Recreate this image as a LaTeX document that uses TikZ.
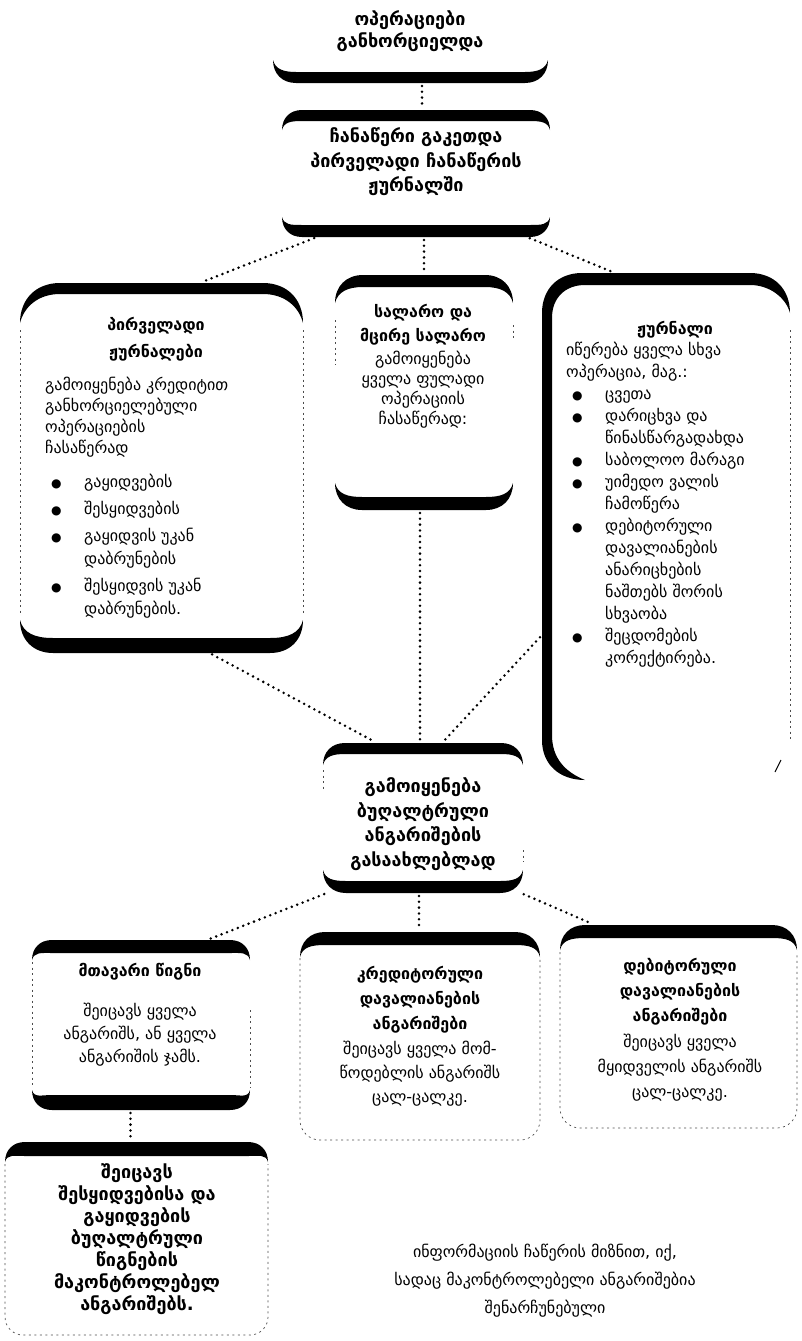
\documentclass[tikz,border=0pt]{standalone}
\usepackage{fontspec}
\setmainfont{DejaVu Sans}
\usetikzlibrary{calc}

% thick curved upper edge of a box: x0, x1, top y, corner radius, thickness
\newcommand\topband[5]{%
  \fill ({#1},{#3+#4}) .. controls ({#1},{#3+0.4*#4}) and ({#1+0.4*#4},{#3}) .. ({#1+#4},{#3})
    -- ({#2-#4},{#3}) .. controls ({#2-0.4*#4},{#3}) and ({#2},{#3+0.4*#4}) .. ({#2},{#3+#4})
    .. controls ({#2-0.1*#4},{#3+0.6*#4}) and ({#2-0.45*#4},{#3+#5}) .. ({#2-#4},{#3+#5})
    -- ({#1+#4},{#3+#5}) .. controls ({#1+0.45*#4},{#3+#5}) and ({#1+0.1*#4},{#3+0.6*#4}) .. ({#1},{#3+#4}) -- cycle;}
% thick curved lower edge of a box: x0, x1, bottom y, corner radius, thickness
\newcommand\bottomband[5]{%
  \fill ({#1},{#3-#4}) .. controls ({#1},{#3-0.4*#4}) and ({#1+0.4*#4},{#3}) .. ({#1+#4},{#3})
    -- ({#2-#4},{#3}) .. controls ({#2-0.4*#4},{#3}) and ({#2},{#3-0.4*#4}) .. ({#2},{#3-#4})
    .. controls ({#2-0.1*#4},{#3-0.6*#4}) and ({#2-0.45*#4},{#3-#5}) .. ({#2-#4},{#3-#5})
    -- ({#1+#4},{#3-#5}) .. controls ({#1+0.45*#4},{#3-#5}) and ({#1+0.1*#4},{#3-0.6*#4}) .. ({#1},{#3-#4}) -- cycle;}
% invisible named area of a box: name, x0, y0, x1, y1
\newcommand\boxarea[5]{%
  \node[area, minimum width={(#4-#2)*1pt}, minimum height={(#5-#3)*1pt}] (#1) at ({(#2+#4)/2},{(#3+#5)/2}) {};}
% list items
\newcommand\bl{\makebox[39pt][l]{\hspace{6pt}{\fontsize{12}{12}\selectfont ●}}}
\newcommand\ind{\makebox[39pt]{}}

\begin{document}
\begin{tikzpicture}[x=1pt,y=-1pt,
  area/.style={inner sep=0pt, outer sep=0pt, draw=none},
  conn/.style={line width=2.8pt, dash pattern=on 0pt off 5.8pt, line cap=round, shorten <=3pt, shorten >=3pt},
  side/.style={line width=0.7pt, black!70, dash pattern=on 2pt off 3.5pt},
  cap/.style={font=\bfseries\fontsize{18}{#1}\selectfont, align=center, inner sep=0pt},
  hd/.style={font=\bfseries\fontsize{16}{#1}\selectfont, align=center, inner sep=0pt},
  tx/.style={font=\fontsize{16}{#1}\selectfont, align=center, inner sep=0pt},
  lst/.style={font=\fontsize{16}{#1}\selectfont, align=left, inner sep=0pt, anchor=north west}]
\useasboundingbox (0,0) rectangle (802,1341);

% ---- box areas
\boxarea{T}{273}{0}{548}{83}
\boxarea{B}{282}{110}{550}{237}
\boxarea{P}{20}{283}{303}{653}
\boxarea{S}{335}{275}{513}{510}
\boxarea{J}{542}{273}{790}{780}
\boxarea{G}{323}{743}{523}{893}
\boxarea{M}{32}{940}{250}{1110}
\boxarea{K}{300}{932}{540}{1140}
\boxarea{D}{560}{925}{797}{1128}
\boxarea{L}{5}{1142}{268}{1336}

% ---- frames
\bottomband{273}{548}{83}{23}{11}

\topband{282}{550}{110}{20}{11}
\bottomband{282}{550}{237}{20}{12}

\topband{20}{303}{283}{40}{11}
\bottomband{20}{303}{653}{33}{15}
\draw[side] (20,330) -- (20,615) (303,330) -- (303,615);

\topband{335}{513}{275}{28}{12}
\bottomband{335}{513}{510}{27}{13}
\draw[side] (335,320) -- (335,365) (513,325) -- (513,340);

% journal box with heavy left side
\fill (585,780) .. controls (560,780) and (542,765) .. (542,740)
  -- (542,313) .. controls (542,289) and (558,273) .. (582,273)
  -- (750,273) .. controls (774,273) and (790,289) .. (790,313)
  .. controls (786,298) and (770,285) .. (750,285)
  -- (585,285) .. controls (566,285) and (552,297) .. (552,318)
  -- (552,735) .. controls (552,758) and (565,772) .. (585,780) -- cycle;
\draw[side] (790,330) -- (790,740);
\draw[line width=1pt] (775,772) -- (781,760);

\topband{323}{523}{743}{22}{11}
\bottomband{323}{523}{893}{23}{12}
\draw[side] (323,770) -- (323,790) (523,850) -- (523,862);

\topband{32}{250}{940}{20}{13}
\bottomband{32}{250}{1110}{20}{15}
\draw[side] (32,962) -- (32,1088) (250,1010) -- (250,1088);

\topband{300}{540}{932}{25}{13}
\draw[side, rounded corners=20pt] (300,958) -- (300,1140) -- (540,1140) -- (540,958);

\topband{560}{797}{925}{25}{13}
\draw[side, rounded corners=20pt] (560,952) -- (560,1128) -- (797,1128) -- (797,952);

\topband{5}{268}{1142}{20}{14}
\draw[side, rounded corners=18pt] (5,1164) -- (5,1335) -- (268,1335) -- (268,1164);

% ---- connectors
\draw[conn] ([xshift=6pt]B.north |- T.south) -- ([xshift=6pt]B.north);
\draw[conn] ([xshift=35pt]B.south west) -- ([xshift=38pt]P.north);
\draw[conn] (S.north |- B.south) -- (S.north);
\draw[conn] ([xshift=-23pt]B.south east) -- ([xshift=-51pt]J.north);
\draw[conn] ([xshift=48pt]P.south) -- ([xshift=54pt]G.north west);
\draw[conn] ([xshift=-4pt]S.south) -- ([xshift=-4pt]S.south |- G.north);
\draw[conn] ([yshift=145pt]J.south west) -- ([xshift=19pt]G.north);
\draw[conn] ([xshift=4pt]G.south west) -- ([xshift=-43pt]M.north east);
\draw[conn] ([xshift=-4pt]G.south) -- ([xshift=-4pt]G.south |- K.north);
\draw[conn] ([xshift=-2pt]G.south east) -- ([xshift=35pt]D.north west);
\draw[conn] ([xshift=-6pt]L.north |- M.south) -- ([xshift=-6pt]L.north);

% ---- texts
\node[cap=22] (tT) at (410,31) {ოპერაციები\\განხორციელდა};
\node[cap=24.5] (tB) at (416,162) {ჩანაწერი გაკეთდა\\პირველადი ჩანაწერის\\ჟურნალში};

\node[hd=27] (hP) at (156,339) {პირველადი\\ჟურნალები};
\node[lst=21] (bP) at (45,377) {გამოიყენება კრედიტით\\განხორციელებული\\ოპერაციების\\ჩასაწერად\\[13pt]
  \bl გაყიდვების\\[6pt]
  \bl შესყიდვების\\[6pt]
  \bl გაყიდვის უკან\\[2pt]
  \ind დაბრუნების\\[6pt]
  \bl შესყიდვის უკან\\[2pt]
  \ind დაბრუნების.};

\node[hd=24] (hS) at (423,325) {სალარო და\\მცირე სალარო};
\node[tx=20] (bS) at (423,390) {გამოიყენება\\ყველა ფულადი\\ოპერაციის\\ჩასაწერად:};

\node[hd=22] (hJ) at (675,330) {ჟურნალი};
\node[lst=22] (bJ) at (566,342) {იწერება ყველა სხვა\\ოპერაცია, მაგ.:\\
  \bl ცვეთა\\
  \bl დარიცხვა და\\
  \ind წინასწარგადახდა\\
  \bl საბოლოო მარაგი\\
  \bl უიმედო ვალის\\
  \ind ჩამოწერა\\
  \bl დებიტორული\\
  \ind დავალიანების\\
  \ind ანარიცხების\\
  \ind ნაშთებს შორის\\
  \ind სხვაობა\\
  \bl შეცდომების\\
  \ind კორექტირება.};

\node[cap=24.5] (tG) at (423,824) {გამოიყენება\\ბუღალტრული\\ანგარიშების\\გასაახლებლად};

\node[hd=22] (hM) at (140,972) {მთავარი წიგნი};
\node[tx=23] (bM) at (140,1035) {შეიცავს ყველა\\ანგარიშს, ან ყველა\\ანგარიშის ჯამს.};

\node[hd=25] (hK) at (420,1000) {კრედიტორული\\დავალიანების\\ანგარიშები};
\node[tx=24] (bK) at (420,1074) {შეიცავს ყველა მომ-\\წოდებლის ანგარიშს\\ცალ-ცალკე.};

\node[hd=25] (hD) at (680,992) {დებიტორული\\დავალიანების\\ანგარიშები};
\node[tx=25] (bD) at (680,1068) {შეიცავს ყველა\\მყიდველის ანგარიშს\\ცალ-ცალკე.};

\node[cap=22] (tL) at (137,1239) {შეიცავს\\შესყიდვებისა და\\გაყიდვების\\ბუღალტრული\\წიგნების\\მაკონტროლებელ\\ანგარიშებს.};

\node[tx=28] (note) at (545,1281) {ინფორმაციის ჩაწერის მიზნით, იქ,\\სადაც მაკონტროლებელი ანგარიშებია\\შენარჩუნებული};
\end{tikzpicture}
\end{document}
